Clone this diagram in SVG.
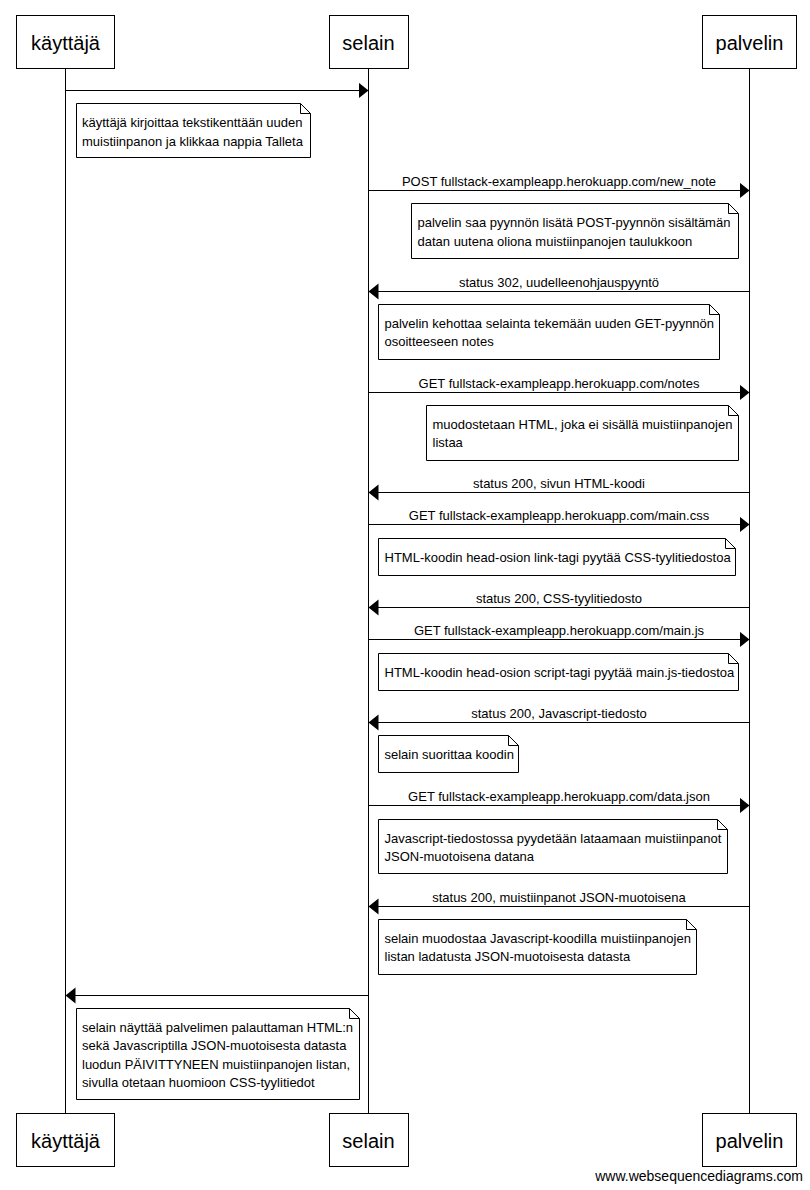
<svg xmlns="http://www.w3.org/2000/svg" width="810" height="1190" viewBox="0 0 810 1190">
<defs>
<style>
.actor rect{fill:#fff;stroke:#000;stroke-width:1}
.actor text{font-family:"Liberation Sans",Arial,sans-serif;font-size:20px;text-anchor:middle;fill:#000}
.life{stroke:#000;stroke-width:1}
.msg line{stroke:#000;stroke-width:1;marker-end:url(#ah)}
.msg text{font-family:"Liberation Sans",Arial,sans-serif;font-size:13px;text-anchor:middle;fill:#000}
.note path{fill:#fff;stroke:#000;stroke-width:1}
.note text{font-family:"Liberation Sans",Arial,sans-serif;font-size:13px;fill:#000}
.wm{font-family:"Liberation Sans",Arial,sans-serif;font-size:14px;fill:#000;text-anchor:end}
</style>
<marker id="ah" markerUnits="userSpaceOnUse" markerWidth="11" markerHeight="17" refX="10" refY="8" orient="auto">
<path d="M0,0 L10,8 L0,16 z" fill="#000"/>
</marker>
</defs>
<rect width="810" height="1190" fill="#fff"/>
<g id="lifelines">
<line class="life" x1="65.5" y1="68" x2="65.5" y2="1113"/>
<line class="life" x1="368.5" y1="68" x2="368.5" y2="1113"/>
<line class="life" x1="749.5" y1="68" x2="749.5" y2="1113"/>
</g>
<g id="actor-kayttaja-top" class="actor"><rect x="16.5" y="15.5" width="98" height="53"/><text x="65.5" y="50">käyttäjä</text></g>
<g id="actor-selain-top" class="actor"><rect x="329.5" y="15.5" width="79" height="53"/><text x="368.5" y="50">selain</text></g>
<g id="actor-palvelin-top" class="actor"><rect x="702.5" y="15.5" width="94" height="53"/><text x="749.5" y="50">palvelin</text></g>
<g id="actor-kayttaja-bottom" class="actor"><rect x="16.5" y="1113.5" width="98" height="53"/><text x="65.5" y="1148">käyttäjä</text></g>
<g id="actor-selain-bottom" class="actor"><rect x="329.5" y="1113.5" width="79" height="53"/><text x="368.5" y="1148">selain</text></g>
<g id="actor-palvelin-bottom" class="actor"><rect x="702.5" y="1113.5" width="94" height="53"/><text x="749.5" y="1148">palvelin</text></g>
<g id="connectors" class="msg">
<line x1="65.5" y1="90.5" x2="368.5" y2="90.5"/>
<line x1="368.5" y1="190.5" x2="749.5" y2="190.5"/>
<text x="559" y="186">POST fullstack-exampleapp.herokuapp.com/new_note</text>
<line x1="749.5" y1="291.5" x2="368.5" y2="291.5"/>
<text x="559" y="287">status 302, uudelleenohjauspyyntö</text>
<line x1="368.5" y1="392.5" x2="749.5" y2="392.5"/>
<text x="559" y="388">GET fullstack-exampleapp.herokuapp.com/notes</text>
<line x1="749.5" y1="492.5" x2="368.5" y2="492.5"/>
<text x="559" y="488">status 200, sivun HTML-koodi</text>
<line x1="368.5" y1="524.5" x2="749.5" y2="524.5"/>
<text x="559" y="520">GET fullstack-exampleapp.herokuapp.com/main.css</text>
<line x1="749.5" y1="607.5" x2="368.5" y2="607.5"/>
<text x="559" y="603">status 200, CSS-tyylitiedosto</text>
<line x1="368.5" y1="639.5" x2="749.5" y2="639.5"/>
<text x="559" y="635">GET fullstack-exampleapp.herokuapp.com/main.js</text>
<line x1="749.5" y1="722.5" x2="368.5" y2="722.5"/>
<text x="559" y="718">status 200, Javascript-tiedosto</text>
<line x1="368.5" y1="805.5" x2="749.5" y2="805.5"/>
<text x="559" y="801">GET fullstack-exampleapp.herokuapp.com/data.json</text>
<line x1="749.5" y1="906.5" x2="368.5" y2="906.5"/>
<text x="559" y="902">status 200, muistiinpanot JSON-muotoisena</text>
<line x1="368.5" y1="995.5" x2="65.5" y2="995.5"/>
</g>
<g id="note1" class="note"><path d="M76.5,103.5 H300.5 L310.5,113.5 V157.5 H76.5 Z M300.5,103.5 V113.5 H310.5"/><text x="82" y="127">käyttäjä kirjoittaa tekstikenttään uuden</text><text x="82" y="145.5">muistiinpanon ja klikkaa nappia Talleta</text></g>
<g id="note2" class="note"><path d="M411.5,203.5 H728.5 L738.5,213.5 V258.5 H411.5 Z M728.5,203.5 V213.5 H738.5"/><text x="417.5" y="227">palvelin saa pyynnön lisätä POST-pyynnön sisältämän</text><text x="417.5" y="245.5">datan uutena oliona muistiinpanojen taulukkoon</text></g>
<g id="note3" class="note"><path d="M378.5,304.5 H709.5 L719.5,314.5 V359.5 H378.5 Z M709.5,304.5 V314.5 H719.5"/><text x="384.5" y="327.5">palvelin kehottaa selainta tekemään uuden GET-pyynnön</text><text x="384.5" y="346">osoitteeseen notes</text></g>
<g id="note4" class="note"><path d="M426.5,405.5 H728.5 L738.5,415.5 V460.5 H426.5 Z M728.5,405.5 V415.5 H738.5"/><text x="432.5" y="428.5">muodostetaan HTML, joka ei sisällä muistiinpanojen</text><text x="432.5" y="447">listaa</text></g>
<g id="note5" class="note"><path d="M378.5,538.5 H725.5 L735.5,548.5 V575.5 H378.5 Z M725.5,538.5 V548.5 H735.5"/><text x="384.5" y="561.5">HTML-koodin head-osion link-tagi pyytää CSS-tyylitiedostoa</text></g>
<g id="note6" class="note"><path d="M378.5,653.5 H728.5 L738.5,663.5 V690.5 H378.5 Z M728.5,653.5 V663.5 H738.5"/><text x="384.5" y="676.5">HTML-koodin head-osion script-tagi pyytää main.js-tiedostoa</text></g>
<g id="note7" class="note"><path d="M378.5,735.5 H508.5 L518.5,745.5 V772.5 H378.5 Z M508.5,735.5 V745.5 H518.5"/><text x="384.5" y="759">selain suorittaa koodin</text></g>
<g id="note8" class="note"><path d="M378.5,819.5 H717.5 L727.5,829.5 V873.5 H378.5 Z M717.5,819.5 V829.5 H727.5"/><text x="384.5" y="842.5">Javascript-tiedostossa pyydetään lataamaan muistiinpanot</text><text x="384.5" y="861">JSON-muotoisena datana</text></g>
<g id="note9" class="note"><path d="M378.5,919.5 H686.5 L696.5,929.5 V974.5 H378.5 Z M686.5,919.5 V929.5 H696.5"/><text x="384.5" y="942.5">selain muodostaa Javascript-koodilla muistiinpanojen</text><text x="384.5" y="961">listan ladatusta JSON-muotoisesta datasta</text></g>
<g id="note10" class="note"><path d="M76.5,1008.5 H349.5 L359.5,1018.5 V1099.5 H76.5 Z M349.5,1008.5 V1018.5 H359.5"/><text x="82" y="1031.5">selain näyttää palvelimen palauttaman HTML:n</text><text x="82" y="1050">sekä Javascriptilla JSON-muotoisesta datasta</text><text x="82" y="1068.5">luodun PÄIVITTYNEEN muistiinpanojen listan,</text><text x="82" y="1087">sivulla otetaan huomioon CSS-tyylitiedot</text></g>
<text class="wm" x="803" y="1181">www.websequencediagrams.com</text>
</svg>
